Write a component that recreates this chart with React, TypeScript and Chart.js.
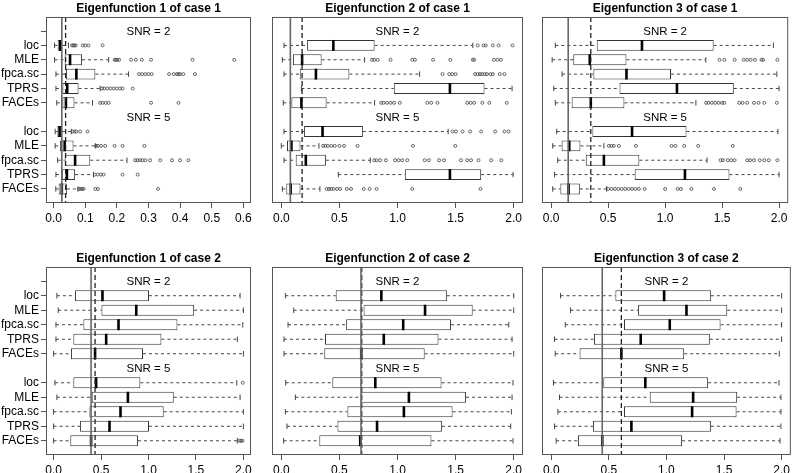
import React, { useEffect, useRef } from 'react';
import { Chart, registerables } from 'chart.js';

Chart.register(...registerables);

// ---------- shared categories and labels ----------
const methods = ['loc', 'MLE', 'fpca.sc', 'TPRS', 'FACEs'];
const snrLabels = ['SNR = 2', 'SNR = 5'];
const boxSlots = [1, 2, 3, 4, 5, 7, 8, 9, 10, 11];
const snrSlots = [0, 6];
const yTickSlots = [0, 1, 2, 3, 4, 5, 7, 8, 9, 10, 11];
const yTickLabels = ['', ...methods, ...methods];
const xTicksNarrow = [0, 0.1, 0.2, 0.3, 0.4, 0.5, 0.6];
const xTicksWide = [0, 0.5, 1, 1.5, 2];
const panelTitles = [
  'Eigenfunction 1 of case 1',
  'Eigenfunction 2 of case 1',
  'Eigenfunction 3 of case 1',
  'Eigenfunction 1 of case 2',
  'Eigenfunction 2 of case 2',
  'Eigenfunction 3 of case 2',
];

// ---------- box statistics: [whisker low, Q1, median, Q3, whisker high] ----------
// rows: SNR=2 loc, MLE, fpca.sc, TPRS, FACEs, SNR=5 loc, MLE, fpca.sc, TPRS, FACEs
const e1c1Box = [
  [0.003, 0.013, 0.021, 0.028, 0.047],
  [0.003, 0.035, 0.052, 0.09, 0.174],
  [0.0075, 0.039, 0.072, 0.132, 0.237],
  [0.0075, 0.028, 0.043, 0.079, 0.147],
  [0.01, 0.028, 0.039, 0.066, 0.123],
  [0.005, 0.012, 0.019, 0.026, 0.056],
  [0.005, 0.02, 0.035, 0.063, 0.132],
  [0.0126, 0.035, 0.068, 0.116, 0.232],
  [0.0075, 0.026, 0.042, 0.068, 0.126],
  [0.007, 0.016, 0.026, 0.042, 0.077],
];
const e1c1Out = [
  [0.058, 0.062, 0.066, 0.07, 0.092, 0.1, 0.11, 0.155],
  [0.193, 0.197, 0.201, 0.207, 0.245, 0.26, 0.279, 0.308, 0.439, 0.571],
  [0.27, 0.28, 0.29, 0.3, 0.31, 0.365, 0.38, 0.39, 0.395, 0.4, 0.41, 0.447],
  [0.153, 0.16, 0.17, 0.18, 0.19, 0.2, 0.21, 0.218, 0.25],
  [0.147, 0.155, 0.165, 0.174, 0.308, 0.395],
  [0.06, 0.066, 0.072, 0.084, 0.107],
  [0.134, 0.14, 0.15, 0.163, 0.193, 0.218, 0.287],
  [0.258, 0.265, 0.272, 0.28, 0.29, 0.305, 0.337, 0.374, 0.4, 0.426],
  [0.13, 0.14, 0.15, 0.158, 0.218, 0.266],
  [0.08, 0.085, 0.09, 0.095, 0.132, 0.14, 0.33],
];
const e1c1Ref = [0.026, 0.038]; // [solid, dashed]

const e2c1Box = [
  [0.023, 0.222, 0.448, 0.803, 1.648],
  [0.009, 0.1, 0.179, 0.347, 0.717],
  [0.023, 0.159, 0.298, 0.586, 1.19],
  [0.173, 0.968, 1.451, 1.749, 1.986],
  [0.017, 0.087, 0.173, 0.39, 0.803],
  [0.023, 0.196, 0.355, 0.702, 1.436],
  [0.0, 0.049, 0.087, 0.165, 0.324],
  [0.023, 0.124, 0.211, 0.384, 0.766],
  [0.491, 1.063, 1.451, 1.72, 1.995],
  [0.009, 0.043, 0.081, 0.165, 0.332],
];
const e2c1Out = [
  [1.69, 1.74, 1.76, 1.82, 1.87, 1.99],
  [0.78, 0.8, 0.83, 0.94, 1.127, 1.15, 1.306, 1.454, 1.648, 1.66, 1.83, 1.86, 1.89],
  [1.388, 1.445, 1.47, 1.5, 1.667, 1.69, 1.71, 1.73, 1.75, 1.77, 1.8, 1.82, 1.88, 1.92],
  [],
  [0.86, 0.88, 0.91, 0.94, 0.97, 1.02, 1.257, 1.29, 1.344, 1.6, 1.63, 1.66, 1.73, 1.79, 1.94],
  [1.474, 1.503, 1.56, 1.625, 1.72, 1.84, 1.92, 1.956],
  [0.36, 0.38, 0.4, 0.43, 0.46, 0.5, 0.54, 0.656, 1.133, 1.497],
  [0.8, 0.82, 0.85, 0.9, 0.98, 1.01, 1.04, 1.084, 1.234, 1.27, 1.358, 1.4, 1.546, 1.6, 1.633, 1.697, 1.806, 1.893],
  [],
  [0.39, 0.41, 0.43, 0.45, 0.48, 0.506, 0.564, 0.6, 0.71, 0.76, 0.82, 1.127, 1.714],
];
const e2c1Ref = [0.078, 0.179];

const e3c1Box = [
  [0.037, 0.4, 0.797, 1.426, 1.95],
  [0.009, 0.194, 0.339, 0.661, 1.357],
  [0.096, 0.371, 0.661, 1.052, 1.98],
  [0.023, 0.6, 1.104, 1.603, 2.0],
  [0.037, 0.18, 0.348, 0.643, 1.27],
  [0.049, 0.362, 0.71, 1.188, 1.99],
  [0.014, 0.092, 0.159, 0.257, 0.463],
  [0.058, 0.304, 0.463, 0.774, 1.368],
  [0.03, 0.733, 1.174, 1.565, 2.0],
  [0.014, 0.081, 0.153, 0.252, 0.487],
];
const e3c1Out = [
  [],
  [1.478, 1.52, 1.61, 1.69, 1.72, 1.75, 1.788, 1.846, 1.86, 1.985],
  [],
  [],
  [1.36, 1.38, 1.41, 1.44, 1.47, 1.5, 1.52, 1.65, 1.68, 1.72, 1.78, 1.82, 1.87, 1.98],
  [],
  [0.507, 0.53, 0.55, 0.594, 0.744, 1.057, 1.09, 1.168, 1.29, 1.594],
  [1.487, 1.507, 1.55, 1.58, 1.61, 1.72, 1.745, 1.78, 1.83, 1.87, 1.91, 1.985],
  [],
  [0.5, 0.53, 0.56, 0.59, 0.62, 0.65, 0.68, 0.71, 0.74, 0.77, 0.82, 1.0, 1.11, 1.139, 1.231, 1.429, 1.66],
];
const e3c1Ref = [0.15, 0.348];

const e1c2Box = [
  [0.035, 0.226, 0.515, 1.005, 1.965],
  [0.049, 0.504, 0.871, 1.481, 2.0],
  [0.025, 0.314, 0.684, 1.305, 1.993],
  [0.025, 0.208, 0.554, 1.136, 1.936],
  [0.0, 0.183, 0.437, 0.942, 2.0],
  [0.014, 0.208, 0.448, 0.914, 1.93],
  [0.035, 0.402, 0.783, 1.266, 1.965],
  [0.0, 0.377, 0.705, 1.16, 2.0],
  [0.0, 0.279, 0.589, 1.005, 2.0],
  [0.0, 0.176, 0.395, 0.889, 1.936],
];
const e1c2Out = [[], [], [], [], [], [1.993], [], [], [], [1.958, 1.975, 1.99]];
const e1c2Ref = [0.395, 0.437];

const e2c2Box = [
  [0.035, 0.468, 0.861, 1.425, 2.0],
  [0.107, 0.708, 1.237, 1.647, 2.0],
  [0.058, 0.558, 1.049, 1.46, 1.957],
  [0.023, 0.376, 0.882, 1.353, 1.986],
  [0.023, 0.37, 0.688, 1.234, 2.0],
  [0.038, 0.439, 0.809, 1.379, 1.994],
  [0.121, 0.688, 1.098, 1.59, 1.986],
  [0.035, 0.569, 1.055, 1.474, 1.98],
  [0.049, 0.483, 0.824, 1.382, 1.974],
  [0.02, 0.327, 0.679, 1.292, 1.994],
];
const e2c2Out = [[], [], [], [], [], [], [], [], [], []];
const e2c2Ref = [0.686, 0.692];

const e3c2Box = [
  [0.081, 0.557, 0.98, 1.386, 2.0],
  [0.168, 0.754, 1.174, 1.528, 2.0],
  [0.122, 0.632, 1.029, 1.47, 2.0],
  [0.029, 0.371, 0.777, 1.377, 2.0],
  [0.035, 0.246, 0.609, 1.154, 1.98],
  [0.02, 0.452, 0.817, 1.362, 1.977],
  [0.072, 0.855, 1.232, 1.614, 1.994],
  [0.058, 0.632, 1.223, 1.609, 1.994],
  [0.029, 0.362, 0.696, 1.386, 1.994],
  [0.043, 0.232, 0.443, 1.136, 1.986],
];
const e3c2Out = [[], [], [], [], [], [], [], [], [], []];
const e3c2Ref = [0.443, 0.609];

// ---------- layout (page pixels) ----------
const SLOT_MIN = -0.98;
const SLOT_MAX = 11.98;
const FONT = '"Liberation Sans", Arial, Helvetica, sans-serif';
const cols = [
  { cx: 0, cw: 262, L: 46, R: 251, yAxis: true },
  { cx: 262, cw: 266, L: 272, R: 523, yAxis: false },
  { cx: 528, cw: 265, L: 542, R: 792, yAxis: false },
];
const rows = [
  { cy: 0, ch: 236, T: 17, B: 203 },
  { cy: 236, ch: 237, T: 267, B: 455 },
];

const panels = [
  { title: panelTitles[0], box: e1c1Box, out: e1c1Out, ref: e1c1Ref, ticks: xTicksNarrow, xMax: 0.6, col: 0, row: 0 },
  { title: panelTitles[1], box: e2c1Box, out: e2c1Out, ref: e2c1Ref, ticks: xTicksWide, xMax: 2, col: 1, row: 0 },
  { title: panelTitles[2], box: e3c1Box, out: e3c1Out, ref: e3c1Ref, ticks: xTicksWide, xMax: 2, col: 2, row: 0 },
  { title: panelTitles[3], box: e1c2Box, out: e1c2Out, ref: e1c2Ref, ticks: xTicksWide, xMax: 2, col: 0, row: 1 },
  { title: panelTitles[4], box: e2c2Box, out: e2c2Out, ref: e2c2Ref, ticks: xTicksWide, xMax: 2, col: 1, row: 1 },
  { title: panelTitles[5], box: e3c2Box, out: e3c2Out, ref: e3c2Ref, ticks: xTicksWide, xMax: 2, col: 2, row: 1 },
];

function makeConfig(p: any): any {
  const c = cols[p.col];
  const r = rows[p.row];

  const boxes = p.box.map((s: number[], i: number) => ({ x: [s[1], s[3]], y: boxSlots[i] }));
  const whiskers: any[] = [];
  p.box.forEach((s: number[], i: number) => {
    const y = boxSlots[i];
    whiskers.push({ x: s[0], y }, { x: s[1], y }, { x: null, y: null });
    whiskers.push({ x: s[3], y }, { x: s[4], y }, { x: null, y: null });
  });
  const caps = p.box.flatMap((s: number[], i: number) => [
    { x: s[0], y: boxSlots[i] },
    { x: s[4], y: boxSlots[i] },
  ]);
  const medians = p.box.map((s: number[], i: number) => ({ x: s[2], y: boxSlots[i] }));
  const outliers = p.out.flatMap((arr: number[], i: number) => arr.map((v) => ({ x: v, y: boxSlots[i] })));

  const slotPx = (frac: number) => (ctx: any) => {
    const ys = ctx.chart.scales.y;
    return Math.abs(ys.getPixelForValue(frac) - ys.getPixelForValue(0));
  };

  const decor = {
    id: 'panelDecor',
    afterDatasetsDraw(chart: any) {
      const { ctx, chartArea: a, scales } = chart;
      ctx.save();
      ctx.strokeStyle = '#555';
      ctx.lineWidth = 1;
      ctx.strokeRect(a.left + 0.5, a.top + 0.5, a.right - a.left - 1, a.bottom - a.top - 1);
      ctx.fillStyle = '#000';
      ctx.textAlign = 'center';
      ctx.textBaseline = 'alphabetic';
      ctx.font = `bold 12px ${FONT}`;
      const cx = (a.left + a.right) / 2;
      ctx.fillText(p.title, cx, a.top - 5);
      ctx.font = `11.5px ${FONT}`;
      ctx.textBaseline = 'middle';
      snrLabels.forEach((t, i) => {
        ctx.fillText(t, cx, scales.y.getPixelForValue(snrSlots[i]) + 1);
      });
      ctx.restore();
    },
  };

  const xMin = -0.04 * p.xMax;
  const xMax = 1.04 * p.xMax;

  return {
    type: 'scatter',
    data: {
      datasets: [
        {
          type: 'line',
          data: [{ x: p.ref[0], y: SLOT_MIN }, { x: p.ref[0], y: SLOT_MAX }],
          borderColor: '#666',
          borderWidth: 1.6,
          pointRadius: 0,
          order: 0,
        },
        {
          type: 'line',
          data: [{ x: p.ref[1], y: SLOT_MIN }, { x: p.ref[1], y: SLOT_MAX }],
          borderColor: '#222',
          borderWidth: 1.3,
          borderDash: [5, 3],
          pointRadius: 0,
          order: 0,
        },
        {
          type: 'scatter',
          data: medians,
          pointStyle: 'line',
          rotation: 90,
          radius: slotPx(0.38),
          borderColor: '#000',
          borderWidth: 2.6,
          order: 1,
        },
        {
          type: 'scatter',
          data: outliers,
          pointStyle: 'circle',
          radius: 1.5,
          borderColor: '#444',
          borderWidth: 0.8,
          backgroundColor: 'rgba(0,0,0,0)',
          order: 2,
        },
        {
          type: 'bar',
          indexAxis: 'y',
          data: boxes,
          backgroundColor: '#fff',
          borderColor: '#333',
          borderWidth: 1,
          borderSkipped: false,
          categoryPercentage: 1,
          barPercentage: 0.76,
          order: 3,
        },
        {
          type: 'line',
          data: whiskers,
          borderColor: '#444',
          borderWidth: 1,
          borderDash: [3, 3],
          pointRadius: 0,
          spanGaps: false,
          order: 4,
        },
        {
          type: 'scatter',
          data: caps,
          pointStyle: 'line',
          rotation: 90,
          radius: slotPx(0.19),
          borderColor: '#444',
          borderWidth: 1,
          order: 4,
        },
      ],
    },
    options: {
      animation: false,
      responsive: false,
      devicePixelRatio: 1,
      events: [],
      layout: {
        padding: {
          left: 0,
          right: c.cx + c.cw - c.R,
          top: r.T - r.cy,
          bottom: 0,
        },
      },
      plugins: {
        legend: { display: false },
        tooltip: { enabled: false },
        title: { display: false },
      },
      scales: {
        x: {
          type: 'linear',
          min: xMin,
          max: xMax,
          offset: false,
          afterBuildTicks: (scale: any) => {
            scale.ticks = p.ticks.map((v: number) => ({ value: v }));
          },
          afterFit: (scale: any) => {
            scale.height = r.cy + r.ch - r.B;
          },
          ticks: {
            autoSkip: false,
            maxRotation: 0,
            minRotation: 0,
            padding: 3,
            color: '#000',
            font: { family: FONT, size: 12 },
            callback: (v: any) => Number(v).toFixed(1),
          },
          grid: { drawOnChartArea: false, drawTicks: true, tickLength: 5, color: '#555', offset: false },
          border: { display: false },
        },
        y: {
          type: 'linear',
          reverse: true,
          min: SLOT_MIN,
          max: SLOT_MAX,
          offset: false,
          display: c.yAxis,
          afterBuildTicks: (scale: any) => {
            scale.ticks = yTickSlots.map((v) => ({ value: v }));
          },
          afterFit: (scale: any) => {
            scale.width = c.L - c.cx;
          },
          ticks: {
            autoSkip: false,
            padding: 2,
            color: '#000',
            font: { family: FONT, size: 12 },
            callback: (v: any) => {
              const k = yTickSlots.indexOf(Number(v));
              return k >= 0 ? yTickLabels[k] : '';
            },
          },
          grid: { drawOnChartArea: false, drawTicks: true, tickLength: 5, color: '#555', offset: false },
          border: { display: false },
        },
      },
    },
    plugins: [decor],
  };
}

function Panel({ p }: { p: any }) {
  const ref = useRef<HTMLCanvasElement | null>(null);
  const c = cols[p.col];
  const r = rows[p.row];
  useEffect(() => {
    if (!ref.current) return;
    const chart = new Chart(ref.current, makeConfig(p));
    return () => chart.destroy();
  }, []);
  return (
    <canvas
      ref={ref}
      width={c.cw}
      height={r.ch}
      style={{ position: 'absolute', left: c.cx, top: r.cy, width: c.cw, height: r.ch }}
    />
  );
}

export default function App() {
  return (
    <div style={{ position: 'absolute', left: 0, top: 0, width: 793, height: 473, background: '#fff' }}>
      {panels.map((p, i) => (
        <Panel key={i} p={p} />
      ))}
    </div>
  );
}
